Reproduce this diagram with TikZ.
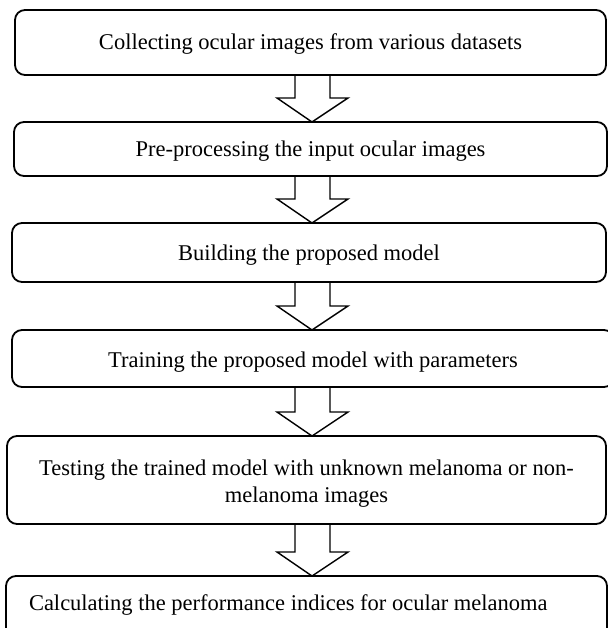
\documentclass[tikz,border=0pt]{standalone}
\usepackage{fontspec}
\setmainfont{Liberation Serif}
\usetikzlibrary{calc}

% Hollow block arrow from the bottom of one step to the top of the next
\newcommand\blockarrow[2]{%
  \draw[blockarr]
    (sl |- #1.south)
    -- ($(sl |- #2.north)+(0,-24)$)
    -- ($(hl |- #2.north)+(0,-24)$)
    -- (tp |- #2.north)
    -- ($(hr |- #2.north)+(0,-24)$)
    -- ($(sr |- #2.north)+(0,-24)$)
    -- (sr |- #1.south);}

\begin{document}
\begin{tikzpicture}[x=1pt,y=-1pt,
  stepbox/.style={draw, line width=1.8pt, rounded corners=10pt,
    inner sep=0pt, outer sep=0pt, anchor=north west,
    font=\fontsize{22.5}{27}\selectfont},
  blockarr/.style={draw, line width=1.4pt, line join=miter}]

\useasboundingbox (0,0) rectangle (607,628);

% arrow geometry: shaft edges, head edges, tip
\coordinate (sl) at (295,0);
\coordinate (sr) at (330,0);
\coordinate (hl) at (277,0);
\coordinate (hr) at (348,0);
\coordinate (tp) at (312,0);

\node[stepbox, minimum width=591, text height=40, text depth=25] (b1) at (15,10)
  {Collecting ocular images from various datasets};
\node[stepbox, minimum width=593, text height=35, text depth=19] (b2) at (14,122)
  {Pre-processing the input ocular images};
\node[stepbox, minimum width=594, text height=37, text depth=22] (b3) at (12,223)
  {Building the proposed model};
\node[stepbox, minimum width=602, text height=37, text depth=20] (b4) at (12,330)
  {Training the proposed model with parameters};
\node[stepbox, minimum width=599, text height=39, text depth=49] (b5) at (7,436)
  {\begin{tabular}[t]{@{}c@{}}Testing the trained model with unknown melanoma or non-\\melanoma images\end{tabular}};
\node[stepbox, minimum width=601, inner xsep=23pt, text height=34, text depth=50] (b6) at (6,576)
  {\makebox[555pt][l]{Calculating the performance indices for ocular melanoma}};

\blockarrow{b1}{b2}
\blockarrow{b2}{b3}
\blockarrow{b3}{b4}
\blockarrow{b4}{b5}
\blockarrow{b5}{b6}

\end{tikzpicture}
\end{document}
